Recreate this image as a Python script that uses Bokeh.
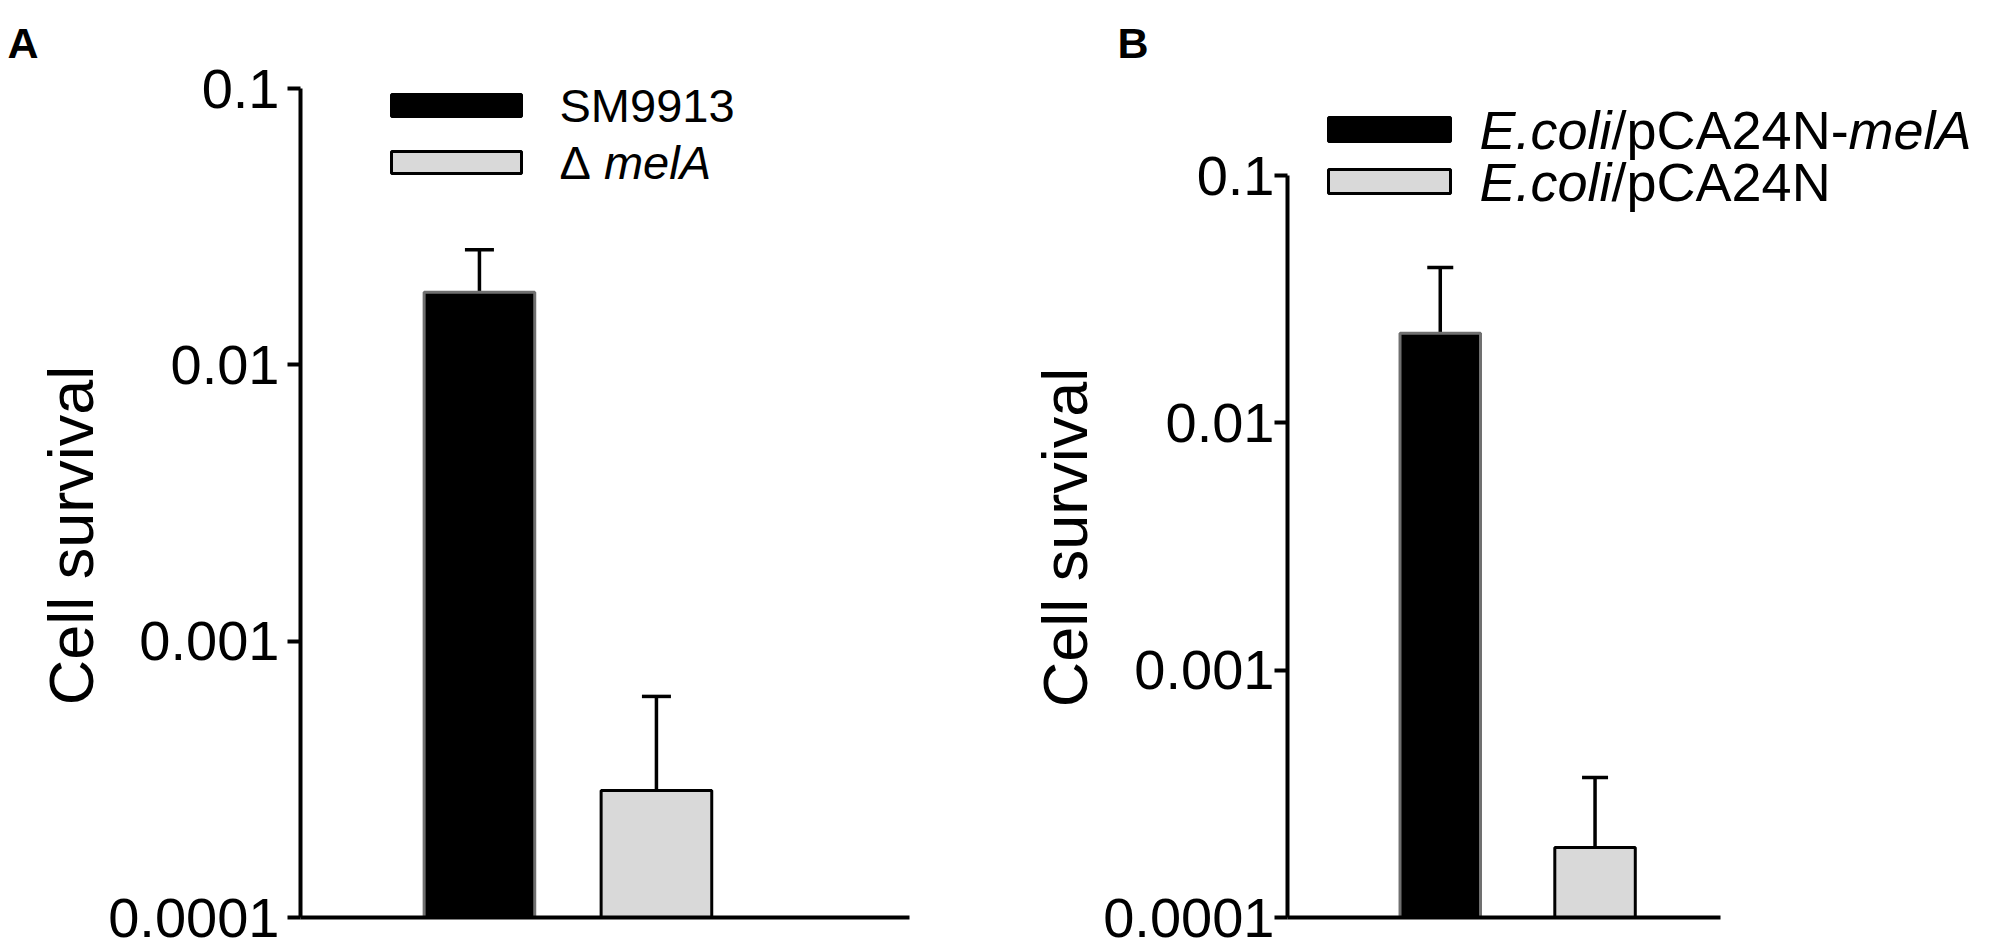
import math
from bokeh.plotting import figure
from bokeh.models import (Range1d, FixedTicker, Label, BoxAnnotation, Whisker,
                          TeeHead, ColumnDataSource, Title)
from bokeh.layouts import row
from bokeh.embed import file_html
from bokeh.resources import INLINE

# ---------------- data ----------------
bar_positions = [1, 2]
bar_colors = ["black", "#d9d9d9"]
bar_line_colors = ["#707070", "black"]

panel_a_groups = ["SM9913", "\u0394melA"]
panel_a_mean = [0.0183, 0.000288]
panel_a_upper = [0.0261, 0.000631]

panel_b_groups = ["E.coli/pCA24N-melA", "E.coli/pCA24N"]
panel_b_mean = [0.0230, 0.000192]
panel_b_upper = [0.0425, 0.000368]

tick_values = [1e-4, 1e-3, 1e-2, 1e-1]
tick_labels = ["0.0001", "0.001", "0.01", "0.1"]
y_label = "Cell survival"

FONT = "Liberation Sans"
TICK_SIZE = "56px"
AXLABEL_SIZE = "63px"
LETTER_SIZE = "43px"
FRAME_TOP = 66      # common frame top (page px)
FRAME_BOTTOM = 917  # 0.0001 line (page px)
H = 938

# Arial / Liberation Sans advance widths (per 1000 em)
ADV = {"E": 667, ".": 278, "c": 500, "o": 556, "l": 222, "i": 222, "/": 278,
       "p": 556, "C": 722, "A": 667, "2": 556, "4": 556, "N": 722, "-": 333,
       "m": 833, "e": 556, " ": 278, "\u0394": 668, "S": 667, "M": 833,
       "9": 556, "1": 556, "3": 556}


def text_width(s, px):
    return sum(ADV.get(ch, 556) for ch in s) * px / 1000.0


def base_fig(width, page_left, frame_left, frame_right, x_range, y_range, log=False):
    kw = dict(y_axis_type="log") if log else dict(x_axis_location=None, y_axis_location=None)
    p = figure(width=width, height=H, x_range=x_range, y_range=y_range,
               output_backend="svg", toolbar_location=None,
               min_border_left=frame_left - page_left, min_border_top=FRAME_TOP,
               min_border_right=page_left + width - frame_right,
               min_border_bottom=H - FRAME_BOTTOM, **kw)
    p.outline_line_color = None
    p.grid.visible = False
    p.background_fill_color = "white"
    p.border_fill_color = "white"
    return p


def add_letter(p, letter, letter_x, frame_left):
    p.add_layout(Title(text=letter, align="left", offset=letter_x - frame_left, standoff=0,
                       text_font=FONT, text_font_size=LETTER_SIZE, text_font_style="bold",
                       text_color="black"), "above")


def label_fig(page_left, width, anchor):
    p = base_fig(width, page_left, page_left, page_left + width,
                 Range1d(0, 1), Range1d(0, 1))
    p.add_layout(Label(x=anchor[0] - page_left, y=FRAME_BOTTOM - anchor[1],
                       x_units="screen", y_units="screen", text=y_label,
                       text_font=FONT, text_font_size=AXLABEL_SIZE, text_color="black",
                       angle=math.pi / 2, text_align="center", text_baseline="middle"))
    return p


def make_panel(page_left, width, frame_left, axis_right, top01, x_start, unit_px,
               bar_width, means, uppers, cap, standoff):
    frame_right = page_left + width
    decade = (FRAME_BOTTOM - top01) / (len(tick_values) - 1)
    y_end = tick_values[-1] * 10 ** ((top01 - FRAME_TOP) / decade)
    x_end = x_start + (frame_right - frame_left) / unit_px
    p = base_fig(width, page_left, frame_left, frame_right,
                 Range1d(x_start, x_end), Range1d(tick_values[0], y_end), log=True)

    src = ColumnDataSource(dict(x=bar_positions, top=means, upper=uppers,
                                fill=bar_colors, line=bar_line_colors,
                                bottom=[tick_values[0]] * len(means)))
    p.add_layout(Whisker(source=src, base="x", lower="top", upper="upper",
                         line_width=3.5, line_color="black", lower_head=None,
                         upper_head=TeeHead(size=cap, line_width=3.5, line_color="black")))
    p.vbar(x="x", top="top", bottom="bottom", width=bar_width, source=src,
           fill_color="fill", line_color="line", line_width=3)

    ya = p.yaxis[0]
    ya.bounds = (tick_values[0], tick_values[-1])
    ya.ticker = FixedTicker(ticks=tick_values, minor_ticks=[])
    ya.major_label_overrides = {v: l for v, l in zip(tick_values, tick_labels)}
    ya.major_label_text_font = FONT
    ya.major_label_text_font_size = TICK_SIZE
    ya.major_label_text_color = "black"
    ya.major_label_standoff = standoff
    ya.major_tick_out = 13
    ya.major_tick_in = 0
    ya.major_tick_line_width = 4
    ya.minor_tick_line_color = None
    ya.axis_line_width = 4
    ya.axis_line_color = "black"

    xa = p.xaxis[0]
    xa.bounds = (x_start, x_start + (axis_right - frame_left) / unit_px)
    xa.ticker = FixedTicker(ticks=[])
    xa.major_tick_line_color = None
    xa.minor_tick_line_color = None
    xa.axis_line_width = 4
    xa.axis_line_color = "black"
    return p


def add_legend(p, frame_left, legend_rows, rect_x, rect_h, text_x, px):
    fx = lambda X: X - frame_left
    fy = lambda Y: FRAME_BOTTOM - Y
    for (cy, fill, lc, parts) in legend_rows:
        p.add_layout(BoxAnnotation(left=fx(rect_x[0]), right=fx(rect_x[1]),
                                   top=fy(cy - rect_h / 2), bottom=fy(cy + rect_h / 2),
                                   left_units="screen", right_units="screen",
                                   top_units="screen", bottom_units="screen",
                                   fill_color=fill, fill_alpha=1.0, line_color=lc,
                                   line_width=3, line_alpha=1.0, level="annotation"))
        x = text_x
        for txt, style in parts:
            p.add_layout(Label(x=fx(x), y=fy(cy), x_units="screen", y_units="screen",
                               text=txt, text_font=FONT, text_font_size=f"{px}px",
                               text_font_style=style, text_align="left",
                               text_baseline="middle", text_color="black"))
            x += text_width(txt, px)


# ---------------- layout (page x positions) ----------------
LA_L, PA_L, LB_L, PB_L, RIGHT = 0, 105, 1000, 1100, 1985

labA = label_fig(LA_L, PA_L - LA_L, (70, 535))
add_letter(labA, "A", 7, LA_L)
pA = make_panel(PA_L, LB_L - PA_L, 298, 909, 88, -0.011, 177.5, 0.625,
                panel_a_mean, panel_a_upper, cap=29, standoff=8)
add_legend(pA, 298,
           [(105, "black", "black", [("SM9913", "normal")]),
            (162, "#d9d9d9", "black", [("\u0394 ", "normal"), ("melA", "italic")])],
           rect_x=(389, 519), rect_h=22, text_x=557, px=47)

labB = label_fig(LB_L, PB_L - LB_L, (1064, 537))
pB = make_panel(PB_L, RIGHT - PB_L, 1286, 1720, 175, 0.013, 155.0, 0.52,
                panel_b_mean, panel_b_upper, cap=26, standoff=0)
add_letter(pB, "B", 1116, 1286)
add_legend(pB, 1286,
           [(129, "black", "black", [("E.coli", "italic"), ("/pCA24N-", "normal"), ("melA", "italic")]),
            (181, "#d9d9d9", "black", [("E.coli", "italic"), ("/pCA24N", "normal")])],
           rect_x=(1327, 1449), rect_h=24, text_x=1478, px=54)

layout = row(labA, pA, labB, pB)
open("out.html", "w").write(file_html(layout, INLINE))
